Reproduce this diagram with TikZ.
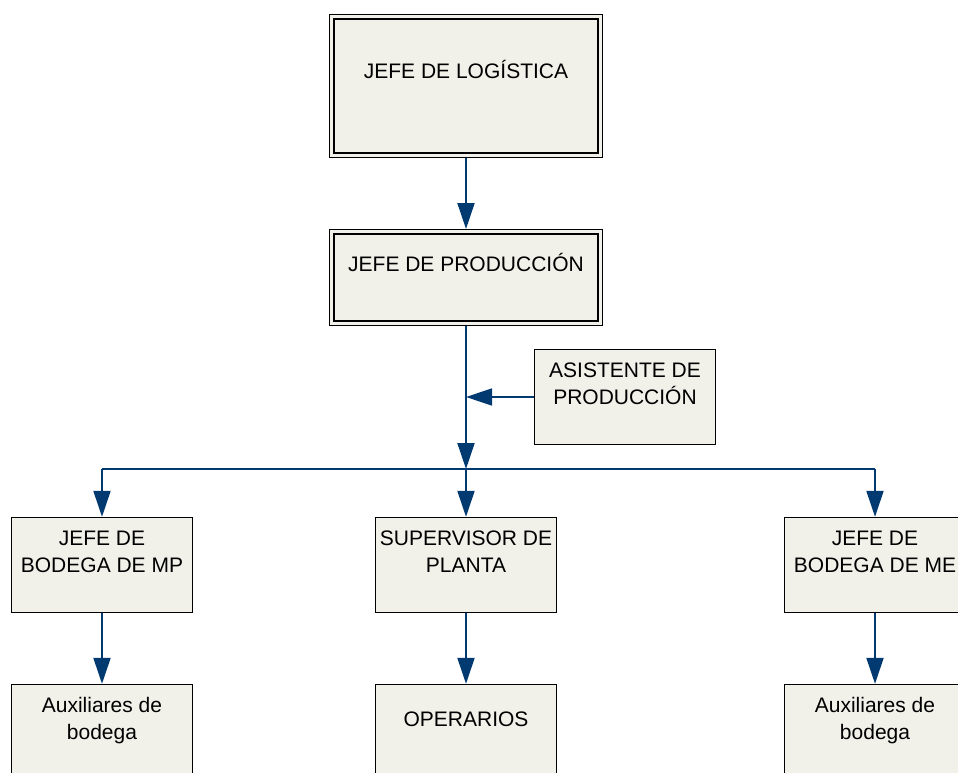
\documentclass[tikz,border=0pt]{standalone}
\usepackage{fontspec}
\setmainfont{Liberation Sans}
\usetikzlibrary{arrows.meta}
\definecolor{boxfill}{RGB}{241,241,234}
\definecolor{connblue}{RGB}{0,58,112}
\newcommand{\mylines}[1]{\begin{tabular}[t]{@{}c@{}}#1\end{tabular}}
\begin{document}
\begin{tikzpicture}[x=1pt,y=-1pt,
  box/.style={draw=black, line width=1.4pt, fill=boxfill, inner sep=0pt,
              minimum width=181pt, minimum height=95pt},
  bigbox/.style={box, line width=1pt, minimum width=273pt},
  innerframe/.style={draw=black, line width=2pt},
  lbl/.style={anchor=base, inner sep=0pt, font=\fontsize{21}{27}\selectfont},
  conn/.style={draw=connblue, line width=2pt, -{Triangle[length=26pt,width=17pt]}},
  bus/.style={draw=connblue, line width=1.5pt}
]
\path[use as bounding box, clip] (0,0) rectangle (958,773);
\fill[white] (0,0) rectangle (958,773);

% boxes
\node[bigbox, minimum height=143pt] (log) at (466,86) {};
\draw[innerframe] ([xshift=5pt,yshift=-5pt]log.north west) rectangle ([xshift=-5pt,yshift=5pt]log.south east);
\node[bigbox, minimum height=96pt] (prod) at (466,277.5) {};
\draw[innerframe] ([xshift=5pt,yshift=-5pt]prod.north west) rectangle ([xshift=-5pt,yshift=5pt]prod.south east);
\node[box] (asis) at (625,397) {};
\node[box] (mp) at (102,565) {};
\node[box] (sup) at (466,565) {};
\node[box] (me) at (875,565) {};
\node[box] (aux1) at (102,732) {};
\node[box] (oper) at (466,732) {};
\node[box] (aux2) at (875,732) {};

% texts
\node[lbl] (tlog) at (466,79) {JEFE DE LOGÍSTICA};
\node[lbl] (tprod) at (466,271) {JEFE DE PRODUCCIÓN};
\node[lbl] (tasis) at (625,377) {\mylines{ASISTENTE DE\\PRODUCCIÓN}};
\node[lbl] (tmp) at (102,545) {\mylines{JEFE DE\\BODEGA DE MP}};
\node[lbl] (tsup) at (466,545) {\mylines{SUPERVISOR DE\\PLANTA}};
\node[lbl] (tme) at (875,545) {\mylines{JEFE DE\\BODEGA DE ME}};
\node[lbl] (taux1) at (102,712) {\mylines{Auxiliares de\\bodega}};
\node[lbl] (toper) at (466,726) {OPERARIOS};
\node[lbl] (taux2) at (875,712) {\mylines{Auxiliares de\\bodega}};

% connectors
\coordinate (j) at (466,469);
\coordinate (k) at (466,397);
\draw[conn] (log.south) -- (prod.north);
\draw[conn] (prod.south) -- (j);
\draw[conn, line width=1.5pt] (asis.west) -- (k);
\draw[bus] (mp.north |- j) -- (me.north |- j);
\draw[conn] (mp.north |- j) -- (mp.north);
\draw[conn] (j) -- (sup.north);
\draw[conn] (me.north |- j) -- (me.north);
\draw[conn] (mp.south) -- (aux1.north);
\draw[conn] (sup.south) -- (oper.north);
\draw[conn] (me.south) -- (aux2.north);
\end{tikzpicture}
\end{document}
